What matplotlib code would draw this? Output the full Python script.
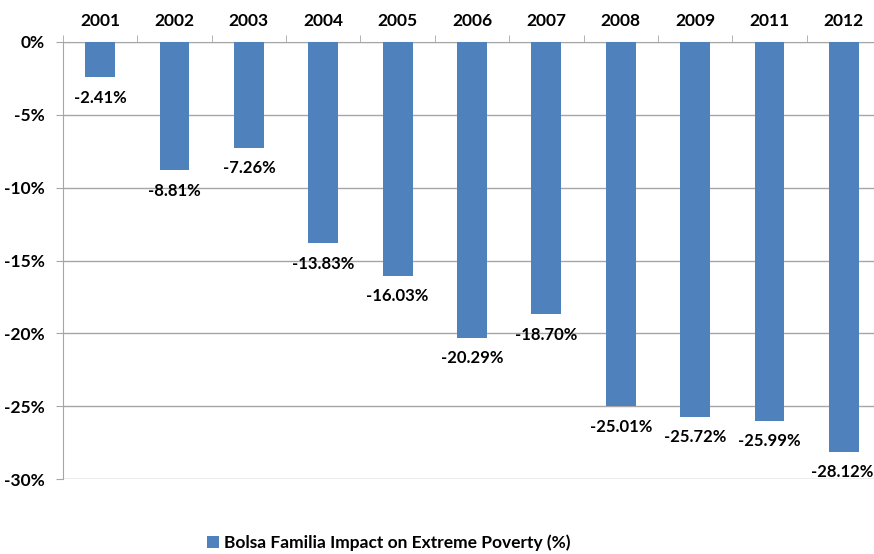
import numpy as np
import matplotlib.pyplot as plt
from matplotlib.patches import Patch

years = ["2001", "2002", "2003", "2004", "2005", "2006", "2007", "2008", "2009", "2011", "2012"]
impact = [-2.41, -8.81, -7.26, -13.83, -16.03, -20.29, -18.70, -25.01, -25.72, -25.99, -28.12]
yticks = [0, -5, -10, -15, -20, -25, -30]
series_name = "Bolsa Familia Impact on Extreme Poverty (%)"

plt.rcParams['font.family'] = ['Lato', 'DejaVu Sans']
plt.rcParams['font.weight'] = 'bold'
fs = 12.5

W, H = 874, 554
fig = plt.figure(figsize=(W / 100, H / 100), dpi=100)
ax = fig.add_axes([63 / W, 1 - 479 / H, (881 - 63) / W, (479 - 42) / H])

x = np.arange(len(years))
bar_color = "#4F81BD"
ax.bar(x, impact, width=0.4, color=bar_color, zorder=3)

for xi, v in zip(x, impact):
    ax.annotate(f"{v:.2f}%", (xi, v), xytext=(-1 if xi == x[-1] else 0, -9),
                textcoords="offset points", ha="center", va="top",
                fontsize=12, fontweight="bold", zorder=4)

ax.set_ylim(-30, 0)
ax.set_xlim(-0.5, len(years) - 0.5)
ax.set_yticks(yticks)
ax.set_yticklabels([f"{t}%" for t in yticks], fontsize=fs, fontweight="bold")
ax.yaxis.grid(True, color="#A6A6A6", linewidth=1, zorder=0)
ax.tick_params(axis="y", length=5, color="#A6A6A6", pad=8)

# category labels on top, ticks at category boundaries
ax.xaxis.tick_top()
ax.set_xticks(x)
ax.set_xticklabels(years, fontsize=fs, fontweight="bold")
ax.tick_params(axis="x", which="major", length=0, pad=9)
ax.set_xticks(np.arange(len(years) + 1) - 0.5, minor=True)
ax.tick_params(axis="x", which="minor", length=5, color="#A6A6A6", top=True, bottom=False)

for s in ["right", "bottom"]:
    ax.spines[s].set_visible(False)
ax.spines["left"].set_color("#A6A6A6")
ax.spines["top"].set_color("#A6A6A6")

handles = [Patch(facecolor=bar_color, label=series_name)]
fig.legend(handles=handles, loc="center left", bbox_to_anchor=(191 / W, 1 - 543 / H),
           frameon=False, handlelength=0.7, handleheight=0.7,
           handletextpad=0.3, prop={"weight": "bold", "size": fs})

fig.savefig("out.png", dpi=100)
